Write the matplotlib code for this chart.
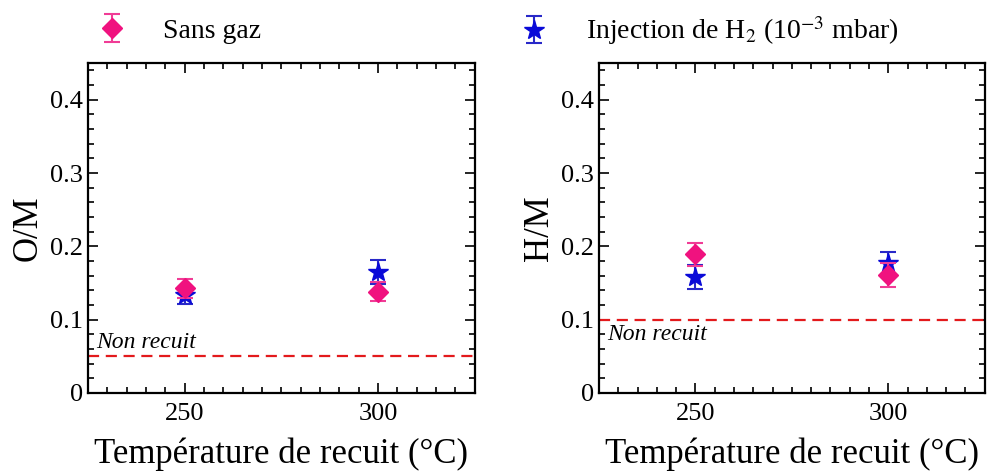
import numpy as np
import matplotlib
matplotlib.use('Agg')
import matplotlib.pyplot as plt
from matplotlib.ticker import MultipleLocator

plt.rcParams['font.family'] = ['Liberation Serif', 'DejaVu Serif']
plt.rcParams['mathtext.fontset'] = 'stix'

# data
temps = [250, 300]
om_sans = [0.143, 0.138]
om_sans_err = [0.013, 0.013]
om_h2 = [0.133, 0.165]
om_h2_err = [0.012, 0.016]
hm_sans = [0.189, 0.161]
hm_sans_err = [0.016, 0.016]
hm_h2 = [0.158, 0.177]
hm_h2_err = [0.016, 0.015]
ref_om = 0.05
ref_hm = 0.10
ytick_vals = [0, 0.1, 0.2, 0.3, 0.4]
ytick_labels = ['0', '0.1', '0.2', '0.3', '0.4']

pink = '#f0127f'
pink_bar = '#f03c96'
blue = '#0a0ad8'
blue_bar = '#2828c8'

fig = plt.figure(figsize=(9.89, 4.74), dpi=100)
ax1 = fig.add_axes([0.089, 0.171, 0.391, 0.696])
ax2 = fig.add_axes([0.6057, 0.171, 0.390, 0.696])


def draw_panel(ax, h2, h2_err, sans, sans_err, ref, ylabel, text_above):
    eb_h2 = ax.errorbar(temps, h2, yerr=h2_err, fmt='*', color=blue, ecolor=blue_bar,
                        markersize=15, capsize=6, elinewidth=1.5, capthick=1.5, zorder=3)
    eb_sans = ax.errorbar(temps, sans, yerr=sans_err, fmt='D', color=pink, ecolor=pink_bar,
                          markersize=10, capsize=6, elinewidth=1.5, capthick=1.5, zorder=4)
    ax.axhline(ref, color='#e31a1c', linestyle=(0, (5, 3)), linewidth=1.6)
    if text_above:
        ax.text(227, ref + 0.004, 'Non recuit', style='italic', fontsize=17, va='bottom')
    else:
        ax.text(227, ref - 0.006, 'Non recuit', style='italic', fontsize=17, va='top')
    ax.set_xlim(225, 325)
    ax.set_ylim(0, 0.45)
    ax.set_xticks(temps)
    ax.set_yticks(ytick_vals)
    ax.set_yticklabels(ytick_labels)
    ax.xaxis.set_minor_locator(MultipleLocator(5))
    ax.yaxis.set_minor_locator(MultipleLocator(0.02))
    ax.tick_params(which='both', direction='in', top=True, right=True, labelsize=19, width=1.2)
    ax.tick_params(which='major', length=7)
    ax.tick_params(which='minor', length=4)
    ax.tick_params(axis='x', pad=7)
    for s in ax.spines.values():
        s.set_linewidth(1.6)
    ax.set_xlabel('Température de recuit (°C)', fontsize=25, labelpad=9)
    ax.set_ylabel(ylabel, fontsize=25, labelpad=4)
    return eb_sans, eb_h2


eb_sans, eb_h2 = draw_panel(ax1, om_h2, om_h2_err, om_sans, om_sans_err, ref_om, 'O/M', True)
draw_panel(ax2, hm_h2, hm_h2_err, hm_sans, hm_sans_err, ref_hm, 'H/M', False)

fig.legend([eb_sans], ['Sans gaz'], loc='center left', bbox_to_anchor=(0.067, 0.935),
           frameon=False, fontsize=20, handlelength=1.5, handletextpad=1.1)
fig.legend([eb_h2], [r'Injection de H$_2$ (10$^{-3}$ mbar)'], loc='center left',
           bbox_to_anchor=(0.494, 0.935), frameon=False, fontsize=20,
           handlelength=1.5, handletextpad=1.1)

fig.savefig('out.png', dpi=100)
